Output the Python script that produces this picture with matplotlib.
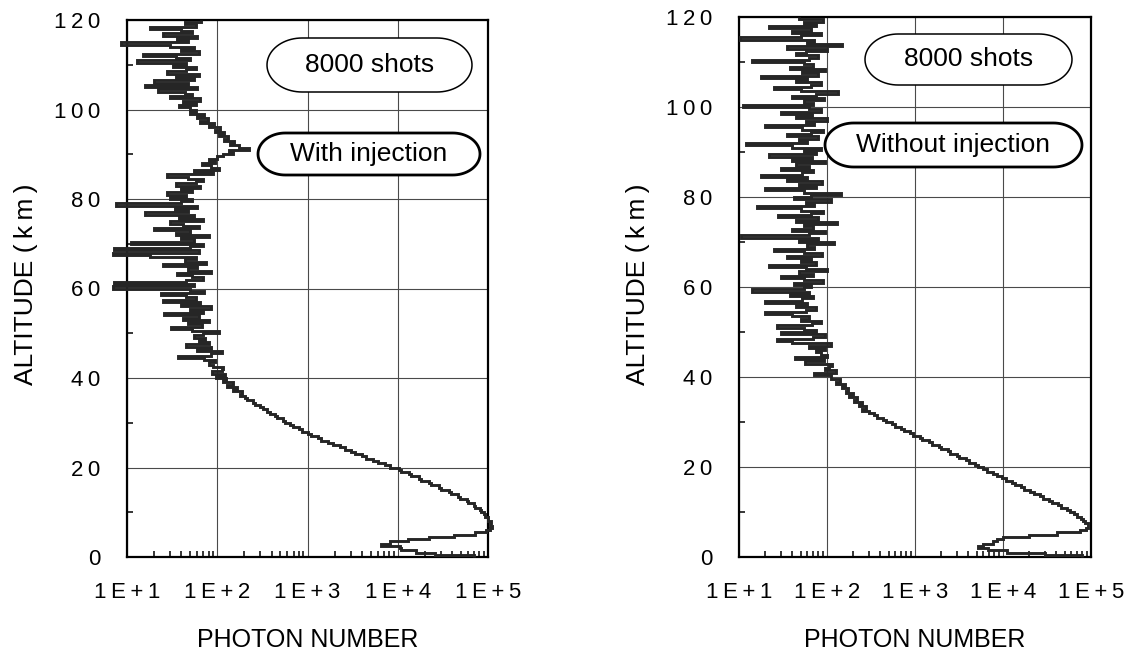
import matplotlib
matplotlib.use("Agg")
import matplotlib.pyplot as plt
import numpy as np
from matplotlib.patches import PathPatch
from matplotlib.path import Path
from matplotlib.ticker import LogLocator, NullFormatter
from matplotlib.transforms import IdentityTransform

plt.rcParams['font.family'] = ['Liberation Sans', 'DejaVu Sans']

# photon counts per 0.5 km range bin, ground -> 120 km (one row = 10 km)
BIN_KM = 0.5
WITH_INJECTION = [
    70000, 26000, 16000, 11000, 10500, 6600, 8200, 13000, 22000, 42000,
    72000, 95000, 106000, 110000, 105000, 108000, 99000, 101000, 92000, 90000,
    83000, 81000, 72000, 70000, 60000, 58000, 49000, 47000, 39000, 37000,
    30000, 29000, 23500, 22000, 18000, 17000, 14200, 13200, 11000, 10200,
    8300, 7200, 6000, 5300, 4500, 4000, 3400, 3000, 2600, 2300,
    1900, 1700, 1400, 1300, 1100, 1000, 860, 800, 690, 640,
    560, 530, 460, 440, 380, 360, 320, 300, 260, 250,
    215, 205, 180, 190, 150, 165, 128, 150, 115, 125,
    98, 122, 88, 112, 115, 90, 80, 95, 72, 37,
    85, 112, 60, 86, 45, 80, 62, 74, 55, 70,
    105, 52, 31, 68, 48, 80, 42, 62, 26, 70,
    50, 85, 40, 64, 25, 58, 45, 24, 72, 50,
    7, 55, 7.2, 45, 70, 52, 36, 85, 48, 60,
    25, 75, 44, 58, 18, 7, 62, 7.2, 50, 70,
    11, 55, 40, 80, 35, 50, 20, 62, 42, 30,
    70, 38, 55, 16, 48, 34, 60, 7.5, 40, 52,
    30, 45, 28, 52, 40, 65, 35, 58, 70, 48,
    28, 90, 55, 105, 85, 68, 95, 80, 100, 115,
    150, 135, 225, 175, 140, 155, 120, 130, 105, 118,
    95, 108, 80, 92, 64, 78, 60, 72, 50, 58,
    50, 38, 58, 42, 65, 30, 52, 44, 22, 60,
    16, 48, 20, 55, 35, 62, 28, 45, 58, 32,
    45, 13, 50, 35, 15, 62, 40, 55, 30, 8.5,
    48, 36, 60, 25, 52, 40, 18, 58, 44, 66,
]
WITHOUT_INJECTION = [
    80000, 30000, 11000, 6800, 5200, 6000, 7700, 8500, 10000, 20000,
    41000, 75000, 88000, 93000, 92000, 86000, 82000, 76000, 70000, 64000,
    58000, 53000, 46000, 42000, 36000, 33500, 28500, 26000, 22500, 20500,
    17500, 16000, 13800, 12500, 10800, 9800, 8500, 7700, 6600, 6000,
    5200, 4800, 4100, 3800, 3200, 3000, 2500, 2350, 1950, 1850,
    1550, 1450, 1200, 1130, 950, 880, 750, 700, 590, 550,
    470, 430, 370, 340, 300, 250, 280, 230, 250, 205,
    220, 180, 200, 165, 175, 150, 160, 128, 140, 112,
    110, 72, 125, 95, 105, 115, 56, 92, 43, 100,
    85, 75, 95, 62, 110, 40, 27, 70, 95, 30,
    75, 55, 27, 68, 85, 50, 62, 40, 20, 58,
    75, 45, 60, 20, 52, 70, 38, 62, 14, 55,
    65, 42, 90, 55, 30, 70, 48, 100, 58, 22,
    75, 50, 66, 35, 88, 55, 25, 72, 60, 120,
    48, 80, 10.5, 62, 95, 40, 70, 55, 130, 45,
    78, 28, 65, 90, 50, 16, 72, 58, 110, 42,
    65, 145, 55, 20, 75, 48, 88, 35, 60, 18,
    52, 70, 30, 62, 45, 95, 40, 68, 22, 75,
    55, 85, 40, 12, 60, 48, 80, 35, 66, 90,
    52, 20, 72, 58, 100, 45, 68, 30, 85, 62,
    11, 70, 55, 92, 40, 75, 135, 50, 25, 65,
    85, 45, 60, 18, 78, 52, 95, 38, 70, 55,
    14, 62, 80, 45, 58, 100, 35, 150, 60, 72,
    10.2, 50, 85, 40, 65, 22, 75, 55, 90, 48,
]

X_TICKS = [1e1, 1e2, 1e3, 1e4, 1e5]
X_LABELS = ["1E+1", "1E+2", "1E+3", "1E+4", "1E+5"]
Y_TICKS = [0, 20, 40, 60, 80, 100, 120]
Y_MINOR = [10, 30, 50, 70, 90, 110]

TS = "\u2009"  # thin space, the original lettering is widely tracked
W, H = 1135, 658

fig = plt.figure(figsize=(W / 100, H / 100), dpi=100)


def panel(rect, counts):
    ax = fig.add_axes(rect)
    edges = np.arange(len(counts) + 1) * BIN_KM
    ax.stairs(counts, edges, orientation='horizontal', baseline=None,
              color='#262626', lw=2.1, zorder=3, clip_on=False)
    ax.set_xscale('log')
    ax.set_xlim(1e1, 1e5)
    ax.set_ylim(0, 120)
    ax.set_xticks(X_TICKS, [TS.join(s) for s in X_LABELS])
    ax.xaxis.set_minor_locator(LogLocator(base=10, subs=range(2, 10)))
    ax.xaxis.set_minor_formatter(NullFormatter())
    ax.set_yticks(Y_TICKS, [TS.join(str(v)) for v in Y_TICKS])
    ax.set_yticks(Y_MINOR, minor=True)
    ax.tick_params(axis='x', which='major', length=0, pad=18, labelsize=16)
    ax.tick_params(axis='y', which='major', length=0, pad=19, labelsize=16)
    ax.tick_params(which='minor', direction='in', length=4.5, width=1.1)
    ax.grid(True, which='major', color='#4a4a4a', lw=0.8)
    for sp in ax.spines.values():
        sp.set_linewidth(1.6)
    ax.set_xlabel("PHOTON NUMBER", fontsize=18)
    ax.set_ylabel("ALTITUDE (" + TS + "k" + TS + "m" + TS + ")", fontsize=19)
    ax.xaxis.set_label_coords(0.5, -0.132)
    return ax


ax_l = panel([127 / W, 1 - 557 / H, 361 / W, 537 / H], WITH_INJECTION)
ax_r = panel([739 / W, 1 - 557 / H, 352 / W, 540 / H], WITHOUT_INJECTION)
ax_l.yaxis.set_label_coords(-0.2465, 0.508)
ax_r.yaxis.set_label_coords(-0.253, 0.506)


def pill(x0, x1, y0, y1, text, lw):
    # stadium shaped label box, in image pixels (y measured from the top)
    ry = (y1 - y0) / 2
    rx = min(0.65 * (y1 - y0), (x1 - x0) / 2)
    cy = H - (y0 + y1) / 2
    t = np.linspace(-np.pi / 2, np.pi / 2, 40)
    right = np.column_stack([x1 - rx + rx * np.cos(t), cy + ry * np.sin(t)])
    left = np.column_stack([x0 + rx - rx * np.cos(t), cy - ry * np.sin(t)])
    verts = np.vstack([right, left, right[:1]])
    box = PathPatch(Path(verts, closed=True), transform=IdentityTransform(),
                    fc='white', ec='black', lw=lw, zorder=5)
    fig.add_artist(box)
    fig.text((x0 + x1) / 2 / W, 1 - (y0 + y1) / 2 / H, text, ha='center',
             va='center', fontsize=19, zorder=6)


pill(267, 472, 38, 92, "8000 shots", 1.1)
pill(258, 480, 133, 175, "With injection", 2.0)
pill(865, 1072, 34, 85, "8000 shots", 1.1)
pill(825, 1082, 123, 167, "Without injection", 2.0)

fig.savefig("out.png", dpi=100)
